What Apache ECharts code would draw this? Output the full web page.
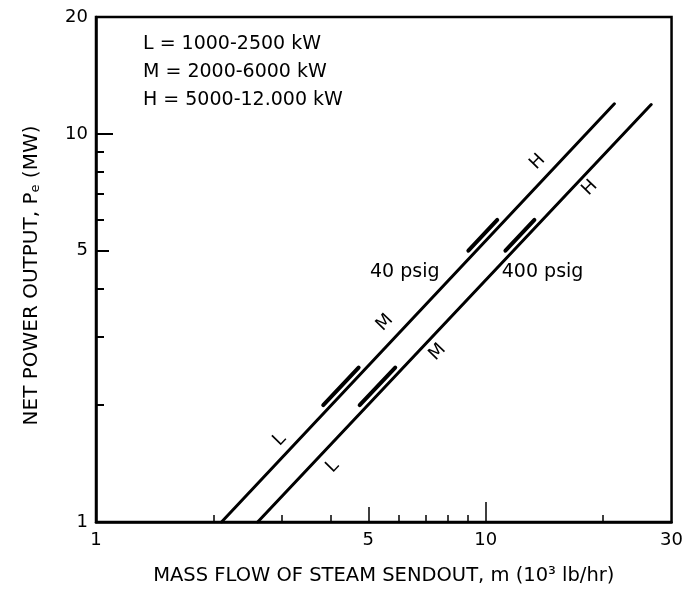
<!DOCTYPE html>
<html>
<head>
<meta charset="utf-8">
<script src="https://cdn.jsdelivr.net/npm/echarts@6/dist/echarts.min.js"></script>
<style>
html,body{margin:0;padding:0;background:#fff;}
#chart{width:686px;height:607px;}
</style>
</head>
<body>
<div id="chart"></div>
<script>
// ---- data ----
var xTickLabels = [1, 5, 10, 30];
var yTickLabels = [1, 5, 10, 20];
var xMinorTicks = [2, 3, 4, 6, 7, 8, 9, 20];
var yMinorTicks = [2, 3, 4, 6, 7, 8, 9];

// steam flow (10^3 lb/hr) , net power (MW)
var line40psig = [[2.10, 1.0], [21.4, 11.95]];
var line400psig = [[2.60, 1.0], [26.6, 11.9]];

// overlap bars drawn beside each line (L/M : 2000-2500 kW, M/H : 5000-6000 kW)
var overlap40LM = [[3.83, 2.0], [4.72, 2.5]];
var overlap40MH = [[9.03, 5.0], [10.71, 6.0]];
var overlap400LM = [[4.75, 2.0], [5.86, 2.5]];
var overlap400MH = [[11.24, 5.0], [13.34, 6.0]];

var rangeLabels40 = [[2.96, 1.63, 'L'], [5.51, 3.26, 'M'], [13.6, 8.47, 'H']];
var rangeLabels400 = [[4.05, 1.39, 'L'], [7.53, 2.74, 'M'], [18.5, 7.26, 'H']];
var pressureLabels = [[6.2, 4.41, '40 psig'], [14.0, 4.41, '400 psig']];

var legendLines = ['L = 1000-2500 kW', 'M = 2000-6000 kW', 'H = 5000-12.000 kW'];

var FONT = 'DejaVu Sans';

function logAxis(dim, opts) {
  var base = {
    type: 'log', logBase: 10,
    min: 1,
    max: dim === 'x' ? 30 : 20,
    gridIndex: 0,
    splitLine: { show: false },
    axisLine: { show: false, lineStyle: { color: '#000', width: 2 } },
    axisLabel: { show: false },
    axisTick: { show: false }
  };
  for (var k in opts) base[k] = opts[k];
  return base;
}

var xAxes = [
  logAxis('x', {
    position: 'bottom',
    axisLine: { show: true, onZero: false, lineStyle: { color: '#000', width: 2.5 } },
    axisLabel: { show: true, customValues: xTickLabels, color: '#000', fontFamily: FONT, fontSize: 18, margin: 9,
      formatter: function (v) { return String(Math.round(v)); } },
    axisTick: { show: true, inside: true, customValues: [10], length: 20, lineStyle: { color: '#000', width: 1.5 } },
    name: 'MASS FLOW OF STEAM SENDOUT, m (10\u00b3 lb/hr)',
    nameLocation: 'middle', nameGap: 44,
    nameTextStyle: { color: '#000', fontFamily: FONT, fontSize: 19.5 }
  }),
  logAxis('x', { position: 'bottom', axisTick: { show: true, inside: true, customValues: [5], length: 15, lineStyle: { color: '#000', width: 1.5 } } }),
  logAxis('x', { position: 'bottom', axisTick: { show: true, inside: true, customValues: xMinorTicks, length: 7, lineStyle: { color: '#000', width: 1.5 } } })
];

var yAxes = [
  logAxis('y', {
    position: 'left',
    axisLine: { show: true, onZero: false, lineStyle: { color: '#000', width: 2.5 } },
    axisLabel: { show: true, customValues: yTickLabels, color: '#000', fontFamily: FONT, fontSize: 18, margin: 8,
      formatter: function (v) { return String(Math.round(v)); } },
    axisTick: { show: true, inside: true, customValues: [10], length: 17, lineStyle: { color: '#000', width: 2 } },
    name: 'NET POWER OUTPUT, P{sub|e} (MW)',
    nameLocation: 'middle', nameGap: 54, nameRotate: 90,
    nameTextStyle: { color: '#000', fontFamily: FONT, fontSize: 20, padding: [0, 12, 0, 0],
      rich: { sub: { fontFamily: FONT, fontSize: 13, color: '#000', verticalAlign: 'bottom', padding: [8, 0, 0, 0] } } }
  }),
  logAxis('y', { position: 'left', axisTick: { show: true, inside: true, customValues: [5], length: 13, lineStyle: { color: '#000', width: 2 } } }),
  logAxis('y', { position: 'left', axisTick: { show: true, inside: true, customValues: yMinorTicks, length: 8, lineStyle: { color: '#000', width: 2 } } })
];

function lineSeries(data, width) {
  return {
    type: 'line', data: data, xAxisIndex: 0, yAxisIndex: 0,
    symbol: 'none', silent: true, clip: true, animation: false,
    lineStyle: { color: '#000', width: width, cap: 'round' }
  };
}

function textSeries(data, size, rotate) {
  return {
    type: 'scatter', xAxisIndex: 0, yAxisIndex: 0, symbolSize: 0, silent: true, animation: false,
    itemStyle: { opacity: 1, color: '#000' },
    data: data.map(function (d) { return { value: [d[0], d[1]], name: d[2] }; }),
    label: { show: true, position: 'inside', formatter: '{b}', color: '#000', opacity: 1,
      textBorderWidth: 0, fontFamily: FONT, fontSize: size, rotate: rotate }
  };
}

var option = {
  backgroundColor: '#fff',
  animation: false,
  grid: { left: 96, right: 14, top: 17, bottom: 85, show: true, borderColor: '#000', borderWidth: 2.5, backgroundColor: 'transparent' },
  xAxis: xAxes,
  yAxis: yAxes,
  graphic: legendLines.map(function (t, i) {
    return { type: 'text', left: 143, top: 35 + i * 28,
      style: { text: t, fill: '#000', font: '19px "DejaVu Sans"' } };
  }),
  series: [
    lineSeries(line40psig, 3),
    lineSeries(line400psig, 3),
    lineSeries(overlap40LM, 4),
    lineSeries(overlap40MH, 4),
    lineSeries(overlap400LM, 4),
    lineSeries(overlap400MH, 4),
    textSeries(rangeLabels40, 18, 46),
    textSeries(rangeLabels400, 18, 46),
    textSeries(pressureLabels, 19, 0)
  ]
};

var chart = echarts.init(document.getElementById('chart'));
chart.setOption(option);
</script>
</body>
</html>
